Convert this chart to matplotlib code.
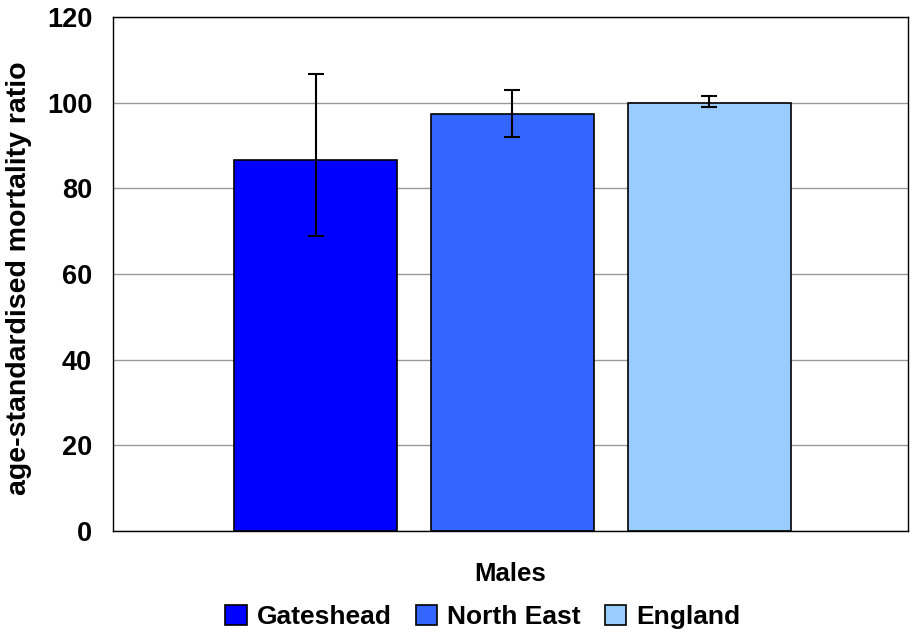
import matplotlib
matplotlib.use("Agg")
import matplotlib.pyplot as plt
import numpy as np
from matplotlib.patches import Patch

categories = ["Gateshead", "North East", "England"]
values = [86.6, 97.3, 100.0]
err_low = [68.8, 92.1, 99.0]
err_high = [106.6, 102.9, 101.5]
colors = ["#0000FF", "#3366FF", "#99CCFF"]
yticks = [0, 20, 40, 60, 80, 100, 120]
xlabel = "Males"
ylabel = "age-standardised mortality ratio"

plt.rcParams['font.family'] = ['Liberation Sans', 'DejaVu Sans']
plt.rcParams['font.weight'] = 'bold'

fig = plt.figure(figsize=(9.13, 6.35), dpi=100)
ax = fig.add_axes([113/913, 1-531/635, (908-113)/913, (531-17)/635])

x = np.arange(len(categories)) - 1
vals = np.array(values)
yerr = np.array([vals - np.array(err_low), np.array(err_high) - vals])
ax.bar(x, vals, width=0.83, color=colors, edgecolor="black", linewidth=1.2, zorder=2)
ax.errorbar(x, vals, yerr=yerr, fmt="none", ecolor="black", elinewidth=1.5,
            capsize=6, capthick=1.5, zorder=3)

ax.set_xlim(-2.03, 2.01)
ax.set_ylim(0, 120)
ax.set_yticks(yticks)
ax.set_yticklabels([str(t) for t in yticks], fontsize=19.5, fontweight='bold')
ax.set_xticks([])
ax.tick_params(axis='y', length=0, pad=15)
ax.yaxis.grid(True, color="#999999", linewidth=1, zorder=0)
ax.set_axisbelow(True)
for s in ax.spines.values():
    s.set_linewidth(1)
    s.set_color("black")

ax.set_xlabel(xlabel, fontsize=18.5, fontweight='bold', labelpad=22)
fig.text(19/913, 1-278/635, ylabel, rotation=90, ha="center", va="center",
         fontsize=20.5, fontweight='bold')

handles = [Patch(facecolor=c, edgecolor="black", linewidth=1.2) for c in colors]
fig.legend(handles, categories, loc="center", bbox_to_anchor=(483/913, 1-617/635),
           ncol=3, frameon=False, handlelength=0.8, handleheight=0.8,
           handletextpad=0.4, columnspacing=0.9, prop={'weight': 'bold', 'size': 19})

fig.savefig("out.png", dpi=100)
